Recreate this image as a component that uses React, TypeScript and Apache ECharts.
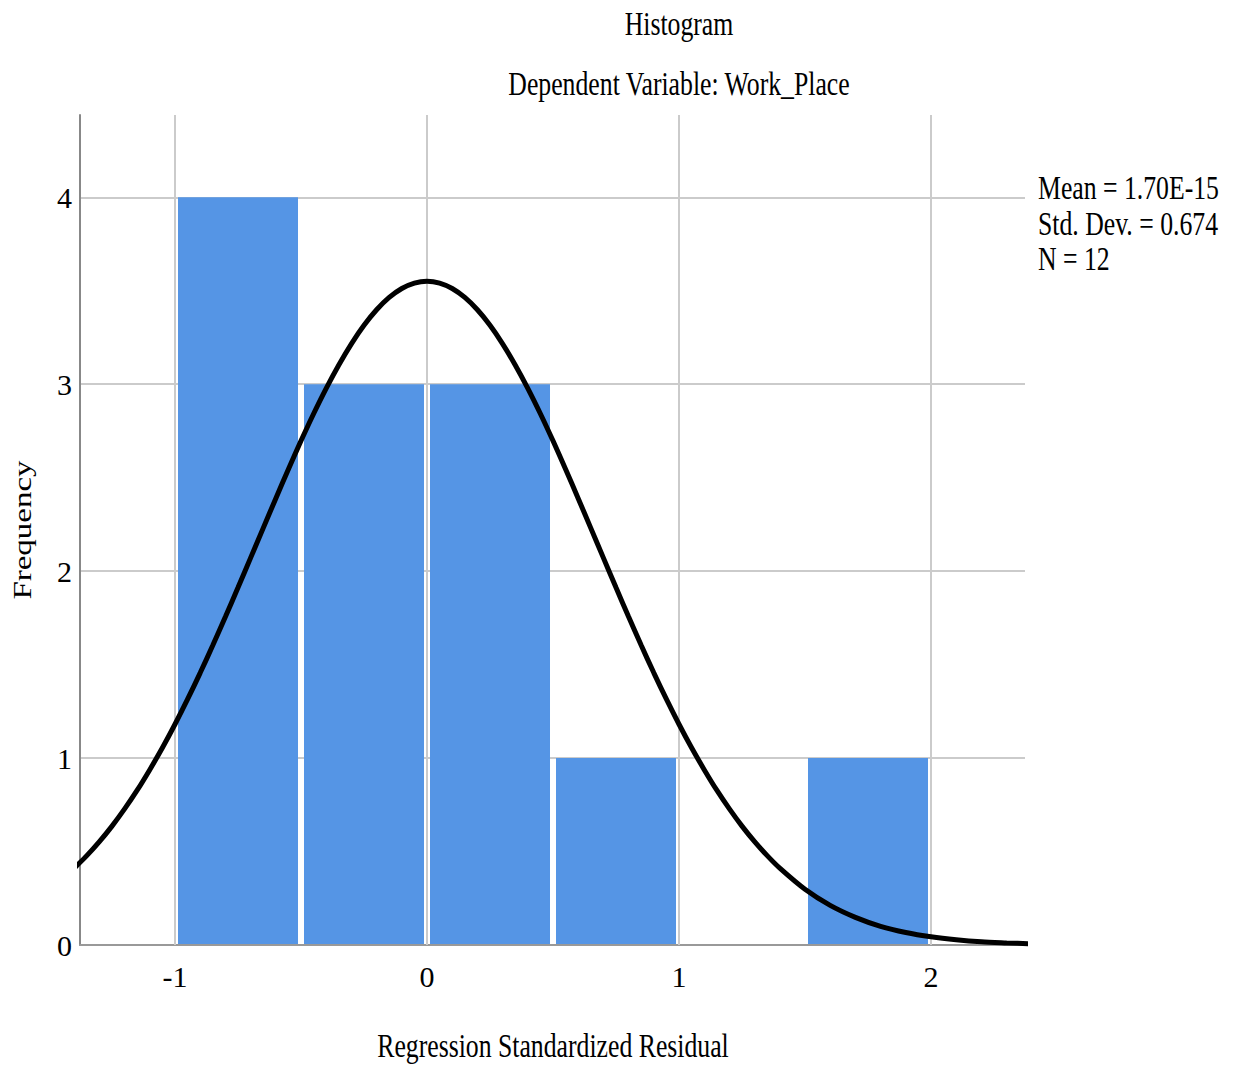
import React, { useEffect, useRef } from "react";
import * as echarts from "echarts";

// Histogram bins (start of each bin) and frequencies
const BIN_START = [-1, -0.5, 0, 0.5, 1, 1.5];
const FREQ = [4, 3, 3, 1, 0, 1];
const BIN_WIDTH = 0.5;

// Normal curve (x, expected frequency)
const CURVE_X = [
  -1.4, -1.35, -1.3, -1.25, -1.2, -1.15, -1.1, -1.05, -1.0, -0.95, -0.9, -0.85, -0.8, -0.75,
  -0.7, -0.65, -0.6, -0.55, -0.5, -0.45, -0.4, -0.35, -0.3, -0.25, -0.2, -0.15, -0.1, -0.05,
  0, 0.05, 0.1, 0.15, 0.2, 0.25, 0.3, 0.35, 0.4, 0.45, 0.5, 0.55, 0.6, 0.65, 0.7, 0.75,
  0.8, 0.85, 0.9, 0.95, 1.0, 1.05, 1.1, 1.15, 1.2, 1.25, 1.3, 1.35, 1.4, 1.5, 1.6,
  1.7, 1.8, 1.9, 2.0, 2.1, 2.2, 2.3, 2.4,
];
const CURVE_Y = [
  0.411, 0.478, 0.553, 0.636, 0.728, 0.828, 0.938, 1.055, 1.181, 1.315, 1.456, 1.603, 1.756, 1.912,
  2.071, 2.23, 2.389, 2.545, 2.697, 2.842, 2.978, 3.103, 3.216, 3.315, 3.398, 3.464, 3.512, 3.541,
  3.551, 3.541, 3.512, 3.464, 3.398, 3.315, 3.216, 3.103, 2.978, 2.842, 2.697, 2.545, 2.389, 2.23,
  2.071, 1.912, 1.756, 1.603, 1.456, 1.315, 1.181, 1.055, 0.938, 0.828, 0.728, 0.636, 0.553, 0.478,
  0.411, 0.298, 0.212, 0.148, 0.1, 0.067, 0.044, 0.028, 0.017, 0.011, 0.006,
];

// Axis settings
const X_MIN = -1.377;
const X_MAX = 2.373;
const X_TICKS = [-1, 0, 1, 2];
const Y_MIN = 0;
const Y_MAX = 4.44;
const Y_INTERVAL = 1;

const TITLE = "Histogram";
const SUBTITLE = "Dependent Variable: Work_Place";
const X_NAME = "Regression Standardized Residual";
const Y_NAME = "Frequency";
const STATS = ["Mean = 1.70E-15", "Std. Dev. = 0.674", "N = 12"];

const FONT = "'Liberation Serif', 'Times New Roman', serif";
const SQUEEZE = 0.78;

export default function App() {
  const ref = useRef<HTMLDivElement>(null);

  useEffect(() => {
    if (!ref.current) return;
    const chart = echarts.init(ref.current, undefined, { renderer: "svg" });

    const textEl = (text: string, x: number, y: number, align: string, extra: any = {}) => ({
      type: "text",
      x,
      y,
      scaleX: SQUEEZE,
      style: {
        text,
        fontSize: 33,
        fontFamily: FONT,
        fill: "#000",
        textAlign: align,
        textVerticalAlign: "middle",
      },
      ...extra,
    });

    const option: any = {
      animation: false,
      backgroundColor: "#fff",
      grid: { left: 80, right: 211, top: 115, bottom: 121, containLabel: false },
      xAxis: {
        type: "value",
        min: X_MIN,
        max: X_MAX,
        axisLine: { show: true, onZero: false, lineStyle: { color: "#999", width: 2 } },
        axisTick: { show: false },
        splitLine: { show: false },
        axisLabel: {
          customValues: X_TICKS,
          fontSize: 30,
          fontFamily: FONT,
          color: "#000",
          margin: 16,
        },
      },
      yAxis: {
        type: "value",
        min: Y_MIN,
        max: Y_MAX,
        interval: Y_INTERVAL,
        axisLine: { show: true, onZero: false, lineStyle: { color: "#888", width: 2 } },
        axisTick: { show: false },
        splitLine: {
          show: true,
          showMinLine: false,
          showMaxLine: false,
          lineStyle: { color: "#cbcbcb", width: 2 },
        },
        axisLabel: {
          fontSize: 30,
          fontFamily: FONT,
          color: "#000",
          margin: 8,
          showMaxLabel: false,
        },
      },
      graphic: [
        textEl(TITLE, 679, 24, "center"),
        textEl(SUBTITLE, 679, 84, "center"),
        textEl(X_NAME, 553, 1046, "center"),
        {
          type: "text",
          x: 22,
          y: 530,
          rotation: Math.PI / 2,
          scaleY: SQUEEZE,
          style: {
            text: Y_NAME,
            fontSize: 33,
            fontFamily: FONT,
            fill: "#000",
            textAlign: "center",
            textVerticalAlign: "middle",
          },
        },
        ...STATS.map((s, i) => textEl(s, 1038, 188 + i * 35.5, "left")),
      ],
      series: [
        {
          type: "custom",
          name: "grid-x",
          z: 1,
          silent: true,
          data: X_TICKS.map((x) => [x, 0]),
          renderItem: (params: any, api: any) => {
            const x = api.value(0);
            const p0 = api.coord([x, Y_MIN]);
            const p1 = api.coord([x, Y_MAX]);
            return {
              type: "line",
              shape: { x1: p0[0], y1: p0[1], x2: p1[0], y2: p1[1] },
              style: { stroke: "#cbcbcb", lineWidth: 2 },
            };
          },
        },
        {
          type: "custom",
          name: "Frequency",
          z: 3,
          data: BIN_START.map((b, i) => [b, FREQ[i]]),
          renderItem: (params: any, api: any) => {
            const x0 = api.value(0);
            const f = api.value(1);
            if (!f) return null;
            const pTop = api.coord([x0, f]);
            const pBot = api.coord([x0 + BIN_WIDTH, 0]);
            return {
              type: "rect",
              shape: {
                x: pTop[0] + 3,
                y: pTop[1],
                width: pBot[0] - pTop[0] - 6,
                height: pBot[1] - pTop[1] - 1,
              },
              style: { fill: "#5595e5" },
            };
          },
        },
        {
          type: "line",
          name: "Normal",
          z: 5,
          smooth: 0.3,
          symbol: "none",
          clip: true,
          lineStyle: { color: "#000", width: 5 },
          data: CURVE_X.map((x, i) => [x, CURVE_Y[i]]),
        },
      ],
    };

    chart.setOption(option);
    return () => chart.dispose();
  }, []);

  return (
    <div
      ref={ref}
      style={{ position: "absolute", left: 0, top: 0, width: 1236, height: 1066 }}
    />
  );
}
